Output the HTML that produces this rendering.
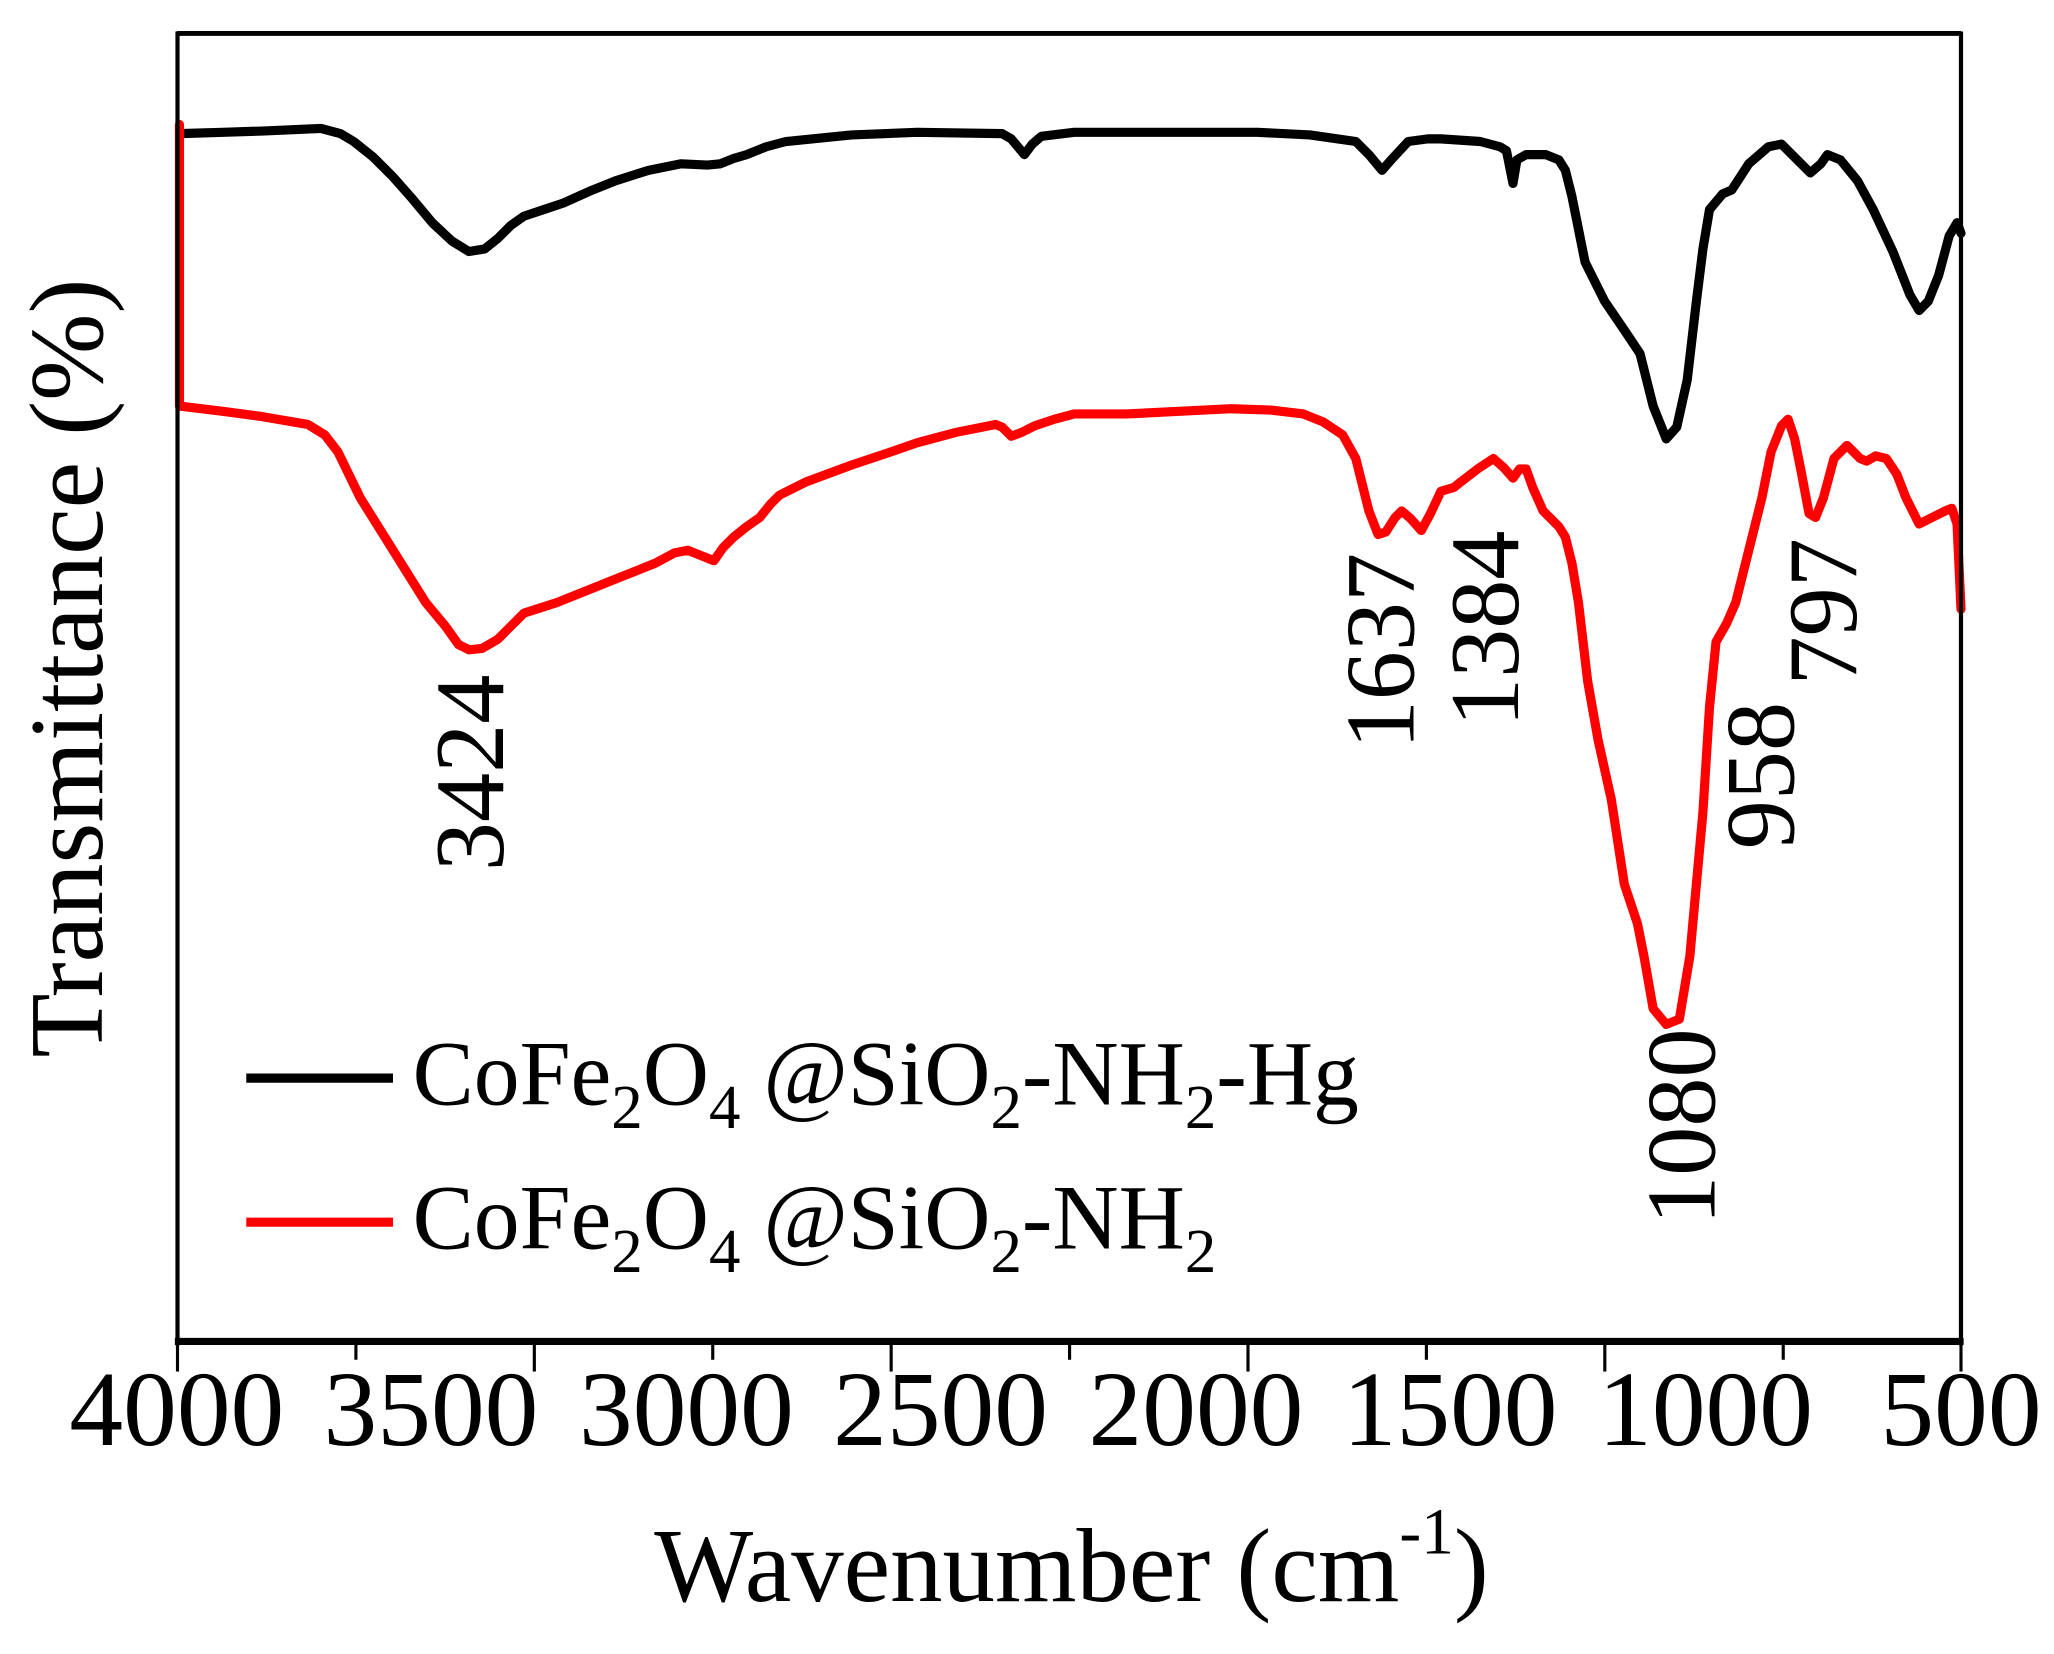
<!DOCTYPE html>
<html><head><style>html,body{margin:0;padding:0;background:#fff}svg{display:block}</style></head>
<body>
<svg width="2054" height="1654" viewBox="0 0 1568 1262.6" xmlns="http://www.w3.org/2000/svg" font-family="Liberation Serif, serif">
<rect width="1568" height="1263" fill="#fff"/>
<g fill="none" stroke-linejoin="round" stroke-linecap="round">
<polyline stroke="#000" stroke-width="7" points="137,102 170,101 200,100 245,98 260,102 270,108 285,120 300,135 315,152 330,170 345,184 358,192 370,190 380,182 390,172 400,165 415,160 430,155 450,146 470,138 495,130 520,125 540,126 550,125 560,121 570,118 585,112 600,108 650,103 700,101 765,102 772,106 782,118 788,110 795,104 820,101 900,101 960,101 1000,103 1035,108 1045,118 1055,130 1062,122 1075,108 1090,106 1100,106 1130,108 1145,112 1150,115 1155,140 1158,122 1165,118 1180,118 1190,122 1195,130 1200,150 1210,200 1225,230 1240,252 1252,270 1262,310 1272,335 1280,326 1288,290 1295,230 1300,190 1305,160 1315,148 1322,145 1335,125 1350,112 1360,110 1370,120 1382,132 1390,125 1395,118 1405,122 1418,138 1430,160 1445,192 1458,225 1465,237 1472,230 1480,210 1488,180 1494,170 1497,178"/>
<polyline stroke="#f00" stroke-width="7" points="137,95 137,310 170,314 200,318 235,324 248,332 258,345 275,380 300,420 325,460 340,478 350,492 358,496 368,495 380,488 390,478 400,468 425,460 450,450 475,440 500,430 515,422 525,420 535,424 545,428 552,418 560,410 570,402 580,395 588,385 595,378 615,368 650,355 680,345 700,338 730,330 760,324 765,326 772,333 780,330 790,325 805,320 820,316 860,316 900,314 940,312 970,313 995,316 1010,322 1025,332 1035,350 1045,390 1052,408 1058,406 1065,395 1070,390 1077,396 1085,405 1092,392 1100,375 1110,372 1115,368 1128,358 1140,350 1148,357 1155,365 1160,358 1165,358 1170,372 1178,390 1190,402 1195,410 1200,430 1205,460 1212,520 1220,565 1230,610 1240,675 1250,705 1255,730 1262,770 1272,782 1282,778 1290,730 1300,620 1305,540 1310,490 1318,476 1325,460 1335,420 1345,380 1352,345 1360,325 1365,320 1370,335 1375,360 1381,392 1386,395 1392,380 1400,350 1410,340 1420,350 1425,352 1432,348 1440,350 1448,362 1455,380 1465,400 1475,395 1485,390 1490,388 1494,400 1497,465"/>
</g>
<g stroke="#000" fill="none">
<line x1="135" y1="25.5" x2="1497" y2="25.5" stroke-width="3.8"/>
<line x1="135.5" y1="24" x2="135.5" y2="1027" stroke-width="3.2"/>
<line x1="1497" y1="24" x2="1497" y2="1027" stroke-width="3.2"/>
<line x1="133.5" y1="1024" x2="1499" y2="1024" stroke-width="5.5"/>
<g stroke-width="2.4">
<line x1="135.5" y1="1026" x2="135.5" y2="1047"/><line x1="271.7" y1="1026" x2="271.7" y2="1038"/>
<line x1="407.9" y1="1026" x2="407.9" y2="1047"/><line x1="544.1" y1="1026" x2="544.1" y2="1038"/>
<line x1="680.3" y1="1026" x2="680.3" y2="1047"/><line x1="816.5" y1="1026" x2="816.5" y2="1038"/>
<line x1="952.7" y1="1026" x2="952.7" y2="1047"/><line x1="1088.9" y1="1026" x2="1088.9" y2="1038"/>
<line x1="1225.1" y1="1026" x2="1225.1" y2="1047"/><line x1="1361.3" y1="1026" x2="1361.3" y2="1038"/>
<line x1="1497" y1="1026" x2="1497" y2="1047"/>
</g>
<line x1="188" y1="823" x2="300" y2="823" stroke-width="7"/>
<line x1="188" y1="933" x2="300" y2="933" stroke="#f00" stroke-width="7"/>
</g>
<g font-size="82" text-anchor="middle" fill="#000">
<text x="135" y="1103">4000</text><text x="329" y="1103">3500</text><text x="524" y="1103">3000</text>
<text x="718" y="1103">2500</text><text x="913" y="1103">2000</text><text x="1107" y="1103">1500</text>
<text x="1302" y="1103">1000</text><text x="1497" y="1103">500</text>
<text x="818" y="1222" font-size="80">Wavenumber (cm<tspan dy="-36" font-size="50">-1</tspan><tspan dy="36">)</tspan></text>
<text transform="translate(78,510) rotate(-90)" font-size="80">Transmittance (%)</text>
</g>
<g font-size="75" fill="#000" text-anchor="middle">
<text transform="translate(384,590) rotate(-90)">3424</text>
<text transform="translate(1079,497) rotate(-90)">1637</text>
<text transform="translate(1159,480) rotate(-90)">1384</text>
<text transform="translate(1309,860) rotate(-90)">1080</text>
<text transform="translate(1369,592) rotate(-90)">958</text>
<text transform="translate(1417,467) rotate(-90)">797</text>
</g>
<g font-size="70" fill="#000">
<text x="315" y="843">CoFe<tspan font-size="48" dy="18">2</tspan><tspan dy="-18">O</tspan><tspan font-size="48" dy="18">4</tspan><tspan dy="-18"> @SiO</tspan><tspan font-size="48" dy="18">2</tspan><tspan dy="-18">-NH</tspan><tspan font-size="48" dy="18">2</tspan><tspan dy="-18">-Hg</tspan></text>
<text x="315" y="953">CoFe<tspan font-size="48" dy="18">2</tspan><tspan dy="-18">O</tspan><tspan font-size="48" dy="18">4</tspan><tspan dy="-18"> @SiO</tspan><tspan font-size="48" dy="18">2</tspan><tspan dy="-18">-NH</tspan><tspan font-size="48" dy="18">2</tspan></text>
</g>
</svg>
</body></html>
